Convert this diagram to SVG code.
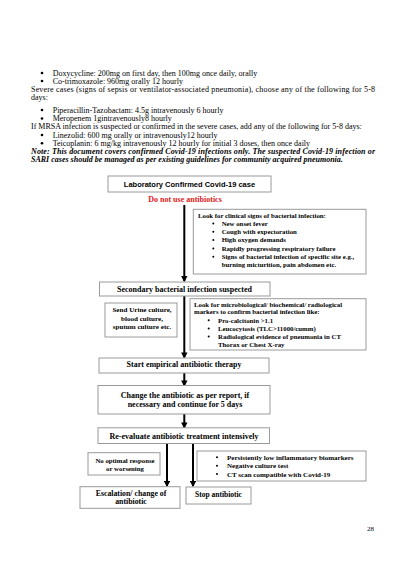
<svg xmlns="http://www.w3.org/2000/svg" width="407" height="576" viewBox="0 0 407 576">
<defs>
<style>
.body{font-family:"Liberation Serif","Times New Roman",serif;font-size:8px;fill:#000}
.note{font-family:"Liberation Serif","Times New Roman",serif;font-size:8px;font-weight:bold;font-style:italic;fill:#000}
.fm{font-family:"Liberation Serif","Times New Roman",serif;font-size:8px;font-weight:bold;fill:#000;text-anchor:middle}
.fb{font-family:"Liberation Serif","Times New Roman",serif;font-size:6.8px;font-weight:bold;fill:#000}
.fs{font-family:"Liberation Sans",Arial,sans-serif;font-size:7.5px;font-weight:bold;fill:#000;text-anchor:middle}
.red{font-family:"Liberation Serif","Times New Roman",serif;font-size:8px;font-weight:bold;fill:#e0201b;text-anchor:middle}
.box{fill:#fff;stroke:#9a9a9a;stroke-width:1}
.arr{stroke:#000;stroke-width:2;fill:none;marker-end:url(#ah)}
.c{text-anchor:middle}
</style>
<marker id="ah" viewBox="0 0 10 10" refX="8" refY="5" markerWidth="3.2" markerHeight="3.2" orient="auto" markerUnits="strokeWidth">
<path d="M0,0 L10,5 L0,10 z" fill="#000"/>
</marker>
</defs>
<rect width="407" height="576" fill="#fff"/>

<g id="page-text">
<circle cx="42" cy="73" r="1.3"/>
<text class="body" x="52.7" y="75.6">Doxycycline: 200mg on first day, then 100mg once daily, orally</text>
<circle cx="42" cy="81" r="1.3"/>
<text class="body" x="52.7" y="83.6">Co-trimoxazole: 960mg orally 12 hourly</text>
<text class="body" x="31" y="92" textLength="344" lengthAdjust="spacing">Severe cases (signs of sepsis or ventilator-associated pneumonia), choose any of the following for 5-8</text>
<text class="body" x="31" y="99.6">days:</text>
<circle cx="42" cy="110" r="1.3"/>
<text class="body" x="52.7" y="112.6">Piperacillin-Tazobactam: 4.5g intravenously 6 hourly</text>
<circle cx="42" cy="118.5" r="1.3"/>
<text class="body" x="52.7" y="121.1">Meropenem 1gintravenously8 hourly</text>
<text class="body" x="31" y="129.2">If MRSA infection is suspected or confirmed in the severe cases, add any of the following for 5-8 days:</text>
<circle cx="42" cy="135" r="1.3"/>
<text class="body" x="52.7" y="137.6">Linezolid: 600 mg orally or intravenously12 hourly</text>
<circle cx="42" cy="143.2" r="1.3"/>
<text class="body" x="52.7" y="145.8">Teicoplanin: 6 mg/kg intravenously 12 hourly for initial 3 doses, then once daily</text>
<text class="note" x="31" y="154" textLength="344" lengthAdjust="spacing">Note: This document covers confirmed Covid-19 infections only. The suspected Covid-19 infection or</text>
<text class="note" x="31" y="162">SARI cases should be managed as per existing guidelines for community acquired pneumonia.</text>
<text class="body" x="367" y="531" style="font-size:7px">28</text>
</g>

<g id="connectors">
<line class="arr" x1="184.3" y1="205" x2="184.3" y2="281"/>
<line class="arr" x1="184.3" y1="296" x2="184.3" y2="357.5"/>
<line class="arr" x1="184.3" y1="373" x2="184.3" y2="385.5"/>
<line class="arr" x1="184.3" y1="414" x2="184.3" y2="427.5"/>
<line class="arr" x1="167" y1="444" x2="167" y2="486"/>
<line class="arr" x1="193" y1="444" x2="193" y2="486"/>
</g>

<g id="n-confirmed">
<rect class="box" x="108" y="176" width="163" height="16"/>
<text class="fs" x="189.5" y="186.7">Laboratory Confirmed Covid-19 case</text>
</g>

<g id="n-donot">
<text class="red" x="185" y="202.3">Do not use antibiotics</text>
</g>

<g id="n-clinical">
<rect class="box" x="193.3" y="209.3" width="172.7" height="64.7"/>
<text class="fb" x="198" y="218">Look for clinical signs of bacterial infection:</text>
<circle cx="213.3" cy="223.5" r="1"/>
<text class="fb" x="221.7" y="225.8">New onset fever</text>
<circle cx="213.3" cy="231.8" r="1"/>
<text class="fb" x="221.7" y="234.1">Cough with expectoration</text>
<circle cx="213.3" cy="240.1" r="1"/>
<text class="fb" x="221.7" y="242.4">High oxygen demands</text>
<circle cx="213.3" cy="248.4" r="1"/>
<text class="fb" x="221.7" y="250.7">Rapidly progressing respiratory failure</text>
<circle cx="213.3" cy="256.7" r="1"/>
<text class="fb" x="221.7" y="259">Signs of bacterial infection of specific site e.g.,</text>
<text class="fb" x="221.7" y="267.1">burning micturition, pain abdomen etc.</text>
</g>

<g id="n-secondary">
<rect class="box" x="99.5" y="282" width="170.5" height="14"/>
<text class="fm" x="184.5" y="291.6">Secondary bacterial infection suspected</text>
</g>

<g id="n-cultures">
<rect class="box" x="105" y="303" width="72" height="34"/>
<text class="fb c" x="142" y="312.4" style="font-size:7.1px">Send Urine culture,</text>
<text class="fb c" x="142" y="320.6" style="font-size:7.1px">blood culture,</text>
<text class="fb c" x="142" y="328.7" style="font-size:7.1px">sputum culture etc.</text>
</g>

<g id="n-markers">
<rect class="box" x="190" y="298.7" width="176" height="51.3"/>
<text class="fb" x="194" y="306.6">Look for microbiological/ biochemical/ radiological</text>
<text class="fb" x="194" y="314.4">markers to confirm bacterial infection like:</text>
<circle cx="208.7" cy="320.3" r="1"/>
<text class="fb" x="218" y="322.6">Pro-calcitonin &gt;1.1</text>
<circle cx="208.7" cy="328.5" r="1"/>
<text class="fb" x="218" y="330.8">Leucocytosis (TLC&gt;11000/cumm)</text>
<circle cx="208.7" cy="336.6" r="1"/>
<text class="fb" x="218" y="338.9">Radiological evidence of pneumonia in CT</text>
<text class="fb" x="218" y="346.8">Thorax or Chest X-ray</text>
</g>

<g id="n-empirical">
<rect class="box" x="99" y="358" width="170" height="15"/>
<text class="fm" x="184" y="367.3">Start empirical antibiotic therapy</text>
</g>

<g id="n-change">
<rect class="box" x="98" y="385.5" width="172" height="28.5"/>
<text class="fm" x="185" y="397.6">Change the antibiotic as per report, if</text>
<text class="fm" x="185" y="406.6">necessary and continue for 5 days</text>
</g>

<g id="n-reevaluate">
<rect class="box" x="98" y="427.8" width="171.5" height="15.7"/>
<text class="fm" x="184" y="438.6">Re-evaluate antibiotic treatment intensively</text>
</g>

<g id="n-nooptimal">
<rect class="box" x="88" y="452.7" width="72" height="22.3"/>
<text class="fb c" x="125" y="462.5">No optimal response</text>
<text class="fb c" x="125" y="470.8">or worsening</text>
</g>

<g id="n-lowmarkers">
<rect class="box" x="197" y="451" width="169" height="30"/>
<circle cx="217" cy="457.3" r="1"/>
<text class="fb" x="227" y="459.8" style="font-size:7px">Persistently low inflammatory biomarkers</text>
<circle cx="217" cy="465.7" r="1"/>
<text class="fb" x="227" y="468.1" style="font-size:7px">Negative culture test</text>
<circle cx="217" cy="474" r="1"/>
<text class="fb" x="227" y="476.5" style="font-size:7px">CT scan compatible with Covid-19</text>
</g>

<g id="n-escalation">
<rect class="box" x="80" y="486.7" width="100" height="21.6"/>
<text class="fm" x="131" y="495.6" style="font-size:7.8px">Escalation/ change of</text>
<text class="fm" x="131" y="504.4" style="font-size:7.8px">antibiotic</text>
</g>

<g id="n-stop">
<rect class="box" x="186" y="487" width="65" height="17"/>
<text class="fm" x="218.5" y="497" style="font-size:7.5px">Stop antibiotic</text>
</g>
</svg>
